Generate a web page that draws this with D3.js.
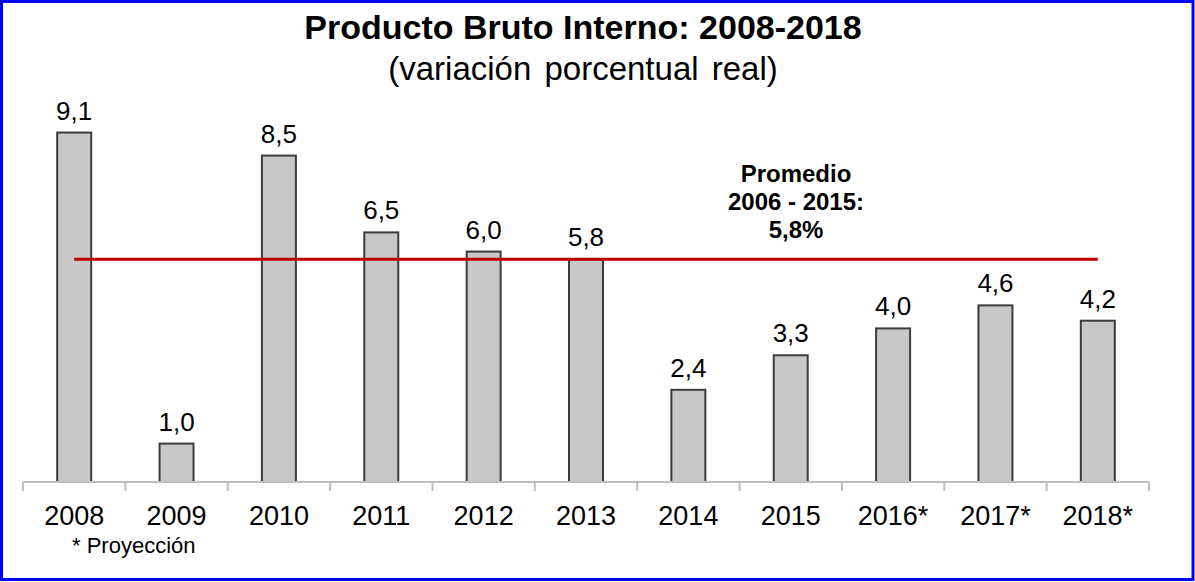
<!DOCTYPE html>
<html>
<head>
<meta charset="utf-8">
<script src="https://cdn.jsdelivr.net/npm/d3@7"></script>
<style>
  html, body { margin: 0; padding: 0; background: #fff; }
  svg { display: block; }
  text { font-family: "Liberation Sans", Arial, sans-serif; fill: #000; }
</style>
</head>
<body>
<svg id="chart" width="1195" height="582"></svg>
<script>
const categories = ["2008", "2009", "2010", "2011", "2012", "2013", "2014", "2015", "2016*", "2017*", "2018*"];
const values = [9.1, 1.0, 8.5, 6.5, 6.0, 5.8, 2.4, 3.3, 4.0, 4.6, 4.2];
const valueLabels = ["9,1", "1,0", "8,5", "6,5", "6,0", "5,8", "2,4", "3,3", "4,0", "4,6", "4,2"];
const averageValue = 5.8;
const averageLabel = ["Promedio", "2006 - 2015:", "5,8%"];
const titleText = "Producto Bruto Interno: 2008-2018";
const subtitleText = "(variación porcentual real)";
const noteText = "* Proyección";

const W = 1195, H = 582;
const svg = d3.select("#chart");

// border
svg.append("rect")
  .attr("x", 1.5).attr("y", 1.5)
  .attr("width", W - 3.5).attr("height", H - 4)
  .attr("fill", "#fff")
  .attr("stroke", "#0000ff").attr("stroke-width", 3);

const baseY = 482;
const x = d3.scaleBand().domain(categories).range([23, 1149])
  .paddingInner(0.668).paddingOuter(0.334);
const y = d3.scaleLinear().domain([0, 10]).range([baseY, baseY - 384]);

// title
svg.append("text").attr("x", 583).attr("y", 39)
  .attr("text-anchor", "middle").attr("font-size", 34).attr("font-weight", "bold")
  .text(titleText);
svg.append("text").attr("x", 583).attr("y", 80)
  .attr("text-anchor", "middle").attr("font-size", 33).attr("word-spacing", 4)
  .text(subtitleText);

// bars
svg.append("g").selectAll("rect").data(values).join("rect")
  .attr("x", (d, i) => x(categories[i]))
  .attr("y", d => y(d))
  .attr("width", x.bandwidth())
  .attr("height", d => y(0) - y(d))
  .attr("fill", "#c8c8c8")
  .attr("stroke", "#3c3c3c")
  .attr("stroke-width", 2);

// value labels
svg.append("g").selectAll("text").data(values).join("text")
  .attr("x", (d, i) => x(categories[i]) + x.bandwidth() / 2)
  .attr("y", d => y(d) - 13)
  .attr("text-anchor", "middle")
  .attr("font-size", 26)
  .text((d, i) => valueLabels[i]);

// axis
const axis = d3.axisBottom(x).tickSize(0).tickPadding(0);
const gAxis = svg.append("g").attr("transform", `translate(0,${baseY})`);
gAxis.append("line").attr("x1", 23).attr("x2", 1149).attr("y1", 0).attr("y2", 0)
  .attr("stroke", "#bfbfbf").attr("stroke-width", 2);
const boundaries = categories.map(c => x(c) - x.step() * x.paddingInner() / 2);
boundaries.push(1149);
boundaries[0] = 23;
gAxis.selectAll("line.tk").data(boundaries).join("line").attr("class", "tk")
  .attr("x1", d => d).attr("x2", d => d).attr("y1", 0).attr("y2", 9)
  .attr("stroke", "#bfbfbf").attr("stroke-width", 2);
gAxis.append("g").call(axis).call(g => {
  g.select(".domain").remove();
  g.selectAll("text").attr("font-size", 27).attr("fill", "#000")
    .attr("font-family", "Liberation Sans, Arial, sans-serif")
    .attr("dy", 0).attr("y", 43);
});

// average line
const first = categories[0], last = categories[categories.length - 1];
svg.append("line")
  .attr("x1", x(first) + x.bandwidth() / 2)
  .attr("x2", x(last) + x.bandwidth() / 2)
  .attr("y1", y(averageValue)).attr("y2", y(averageValue))
  .attr("stroke", "#c00000").attr("stroke-width", 3);

// average annotation
svg.append("g").selectAll("text").data(averageLabel).join("text")
  .attr("x", 796).attr("y", (d, i) => 182 + i * 28)
  .attr("text-anchor", "middle").attr("font-size", 24).attr("font-weight", "bold")
  .text(d => d);

// note
svg.append("text").attr("x", 72).attr("y", 553)
  .attr("font-size", 22).text(noteText);
</script>
</body>
</html>
